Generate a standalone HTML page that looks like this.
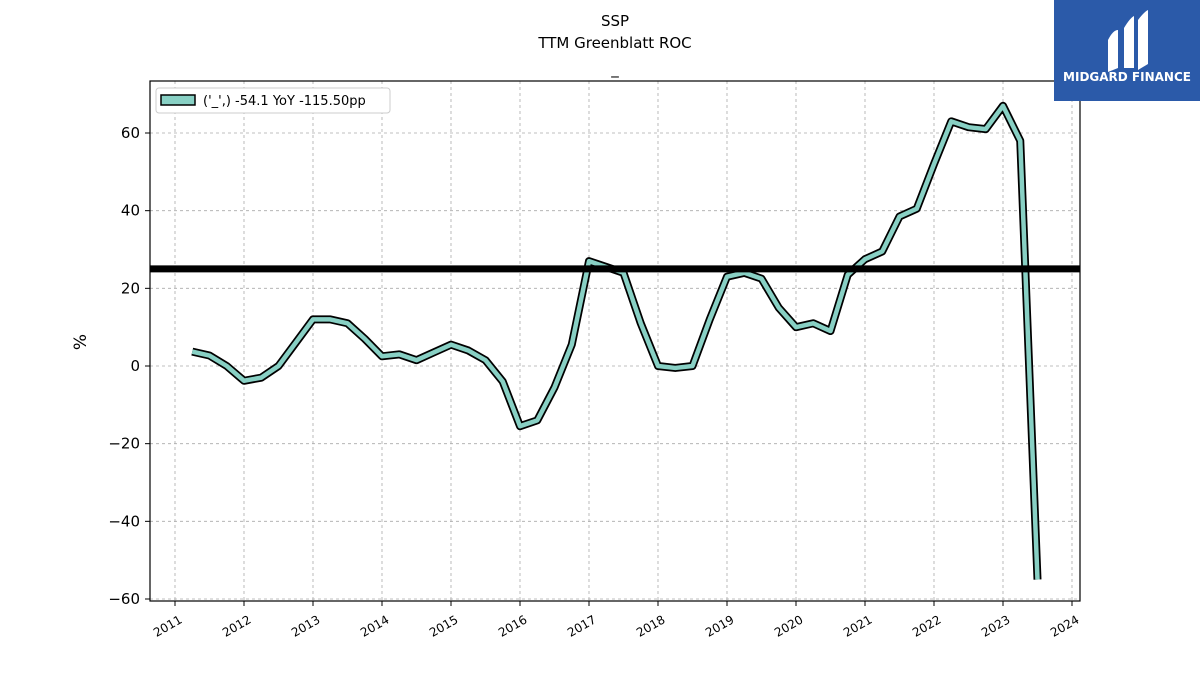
<!DOCTYPE html>
<html><head><meta charset="utf-8"><style>
body{margin:0;background:#fff;font-family:"Liberation Sans","DejaVu Sans",sans-serif}
svg text{font-family:"DejaVu Sans","Liberation Sans",sans-serif}
</style></head><body>
<svg id="chart" width="1200" height="675" viewBox="0 0 1200 675">
<text x="615" y="26" text-anchor="middle" font-size="15">SSP</text>
<text x="615" y="48" text-anchor="middle" font-size="15">TTM Greenblatt ROC</text>
<text x="615" y="74" text-anchor="middle" font-size="15">_</text>
<g id="grid"></g>
<g id="series"></g>
<rect x="150" y="81" width="930" height="520" fill="none" stroke="#000" stroke-width="1.2"/>
<g id="axes"></g>
<text x="86" y="342" font-size="17" text-anchor="middle" transform="rotate(-90 86 342)">%</text>
<g>
<rect x="156" y="88" width="234" height="25" rx="3" fill="#fff" stroke="#ccc"/>
<rect x="161" y="95" width="34" height="10" fill="#88d0c4" stroke="#000" stroke-width="1.5"/>
<text x="203" y="105" font-size="13">('_',) -54.1 YoY -115.50pp</text>
</g>
<g>
<rect x="1054" y="0" width="146" height="101" fill="#2b5aa9"/>
<path d="M1108 40 Q1113 30 1118 30 L1118 68 L1108 72 Z M1124 28 Q1130 18 1134 16 L1134 68 L1124 68 Z M1138 20 Q1144 12 1148 10 L1148 64 L1138 70 Z" fill="#fff"/>
<text x="1127" y="81" text-anchor="middle" font-size="12" font-weight="bold" fill="#fff">MIDGARD FINANCE</text>
</g>
</svg>
<script>
const dates=[2011.25,2011.5,2011.75,2012,2012.25,2012.5,2012.75,2013,2013.25,2013.5,2013.75,2014,2014.25,2014.5,2014.75,2015,2015.25,2015.5,2015.75,2016,2016.25,2016.5,2016.75,2017,2017.25,2017.5,2017.75,2018,2018.25,2018.5,2018.75,2019,2019.25,2019.5,2019.75,2020,2020.25,2020.5,2020.75,2021,2021.25,2021.5,2021.75,2022,2022.25,2022.5,2022.75,2023,2023.25,2023.5];
const roc=[3.7,2.7,0,-3.8,-3,0,6,12,12,11,7,2.5,3,1.5,3.5,5.5,4,1.5,-4,-15.5,-14,-5.5,5.5,27,25.5,24,11,0,-0.5,0,12,23,24,22.5,15,10,11,9,23.5,27.5,29.5,38.5,40.5,52,63,61.5,61,67,58,-55];
const refLevel=[25];
const yTicks=[-60,-40,-20,0,20,40,60];
const xTicks=[2011,2012,2013,2014,2015,2016,2017,2018,2019,2020,2021,2022,2023,2024];
const NS="http://www.w3.org/2000/svg";
const X=v=>175+(v-2011)*(1072-175)/13;
const Y=v=>366-v*(366-133)/60;
function mk(t,a,p){const e=document.createElementNS(NS,t);for(const k in a)e.setAttribute(k,a[k]);p.appendChild(e);return e;}
const grid=document.getElementById('grid'),axes=document.getElementById('axes'),ser=document.getElementById('series');
yTicks.forEach(v=>{
 const l=mk('line',{x1:150,x2:1080,y1:Y(v),y2:Y(v),stroke:'#aaa','stroke-dasharray':'3,3','stroke-width':0.8},grid);
 
 
 const tk=mk('line',{x1:145,x2:150,y1:Y(v),y2:Y(v),stroke:'#000'},axes);
 
 
 const t=mk('text',{x:140,y:Y(v)+5,'text-anchor':'end','font-size':15},axes);
 t.textContent=(v<0?'\u2212'+(-v):v);
 
 
});
xTicks.forEach(v=>{
 const l=mk('line',{x1:X(v),x2:X(v),y1:81,y2:601,stroke:'#aaa','stroke-dasharray':'3,3','stroke-width':0.8},grid);
 
 
 const tk=mk('line',{x1:X(v),x2:X(v),y1:601,y2:606,stroke:'#000'},axes);
 
 
 const t=mk('text',{x:X(v)+8,y:622,'text-anchor':'end','font-size':12,transform:`rotate(-30 ${X(v)+8} 622)`},axes);
 t.textContent=v;
 
 
});
const pts=dates.map((d,i)=>X(d)+','+Y(roc[i])).join(' ');
const o=mk('polyline',{points:pts,fill:'none',stroke:'#000','stroke-width':8,'stroke-linejoin':'round'},ser);


const i2=mk('polyline',{points:pts,fill:'none',stroke:'#88d0c4','stroke-width':4.5,'stroke-linejoin':'round'},ser);


const h=mk('line',{x1:150,x2:1080,y1:Y(refLevel[0]),y2:Y(refLevel[0]),stroke:'#000','stroke-width':7},ser);


</script>
</body></html>
